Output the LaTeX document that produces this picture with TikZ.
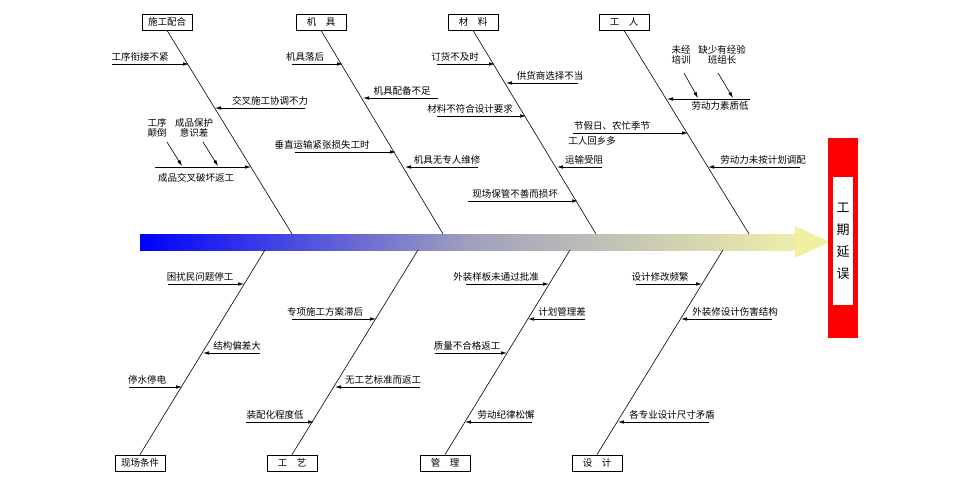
\documentclass[tikz,border=0pt]{standalone}
\usepackage{fontspec}
\setmainfont{Noto Sans CJK SC}
\usetikzlibrary{arrows.meta}
\definecolor{sy}{RGB}{238,238,170}
\definecolor{sm}{RGB}{160,160,190}
\definecolor{hy}{RGB}{240,240,160}
\tikzset{
  cat/.style={draw,thick,fill=white,minimum width=50pt,minimum height=16pt,inner sep=1pt,font=\fontsize{9.5}{10}\selectfont},
  bone/.style={line width=0.6pt},
  br/.style={line width=0.6pt,-{Latex[length=6pt,width=3.5pt]}},
  lbl/.style={font=\fontsize{9.5}{10.5}\selectfont,inner sep=0pt,align=center}
}
\begin{document}
\begin{tikzpicture}[x=1pt,y=-1pt]
\useasboundingbox (0,0) rectangle (962,500);
% spine
\shade[left color=blue,right color=sy,middle color=sm] (140,234) rectangle (797,250);
\fill[hy] (795,226) -- (830,242) -- (795,258) -- cycle;
% effect box
\fill[red] (828,138) rectangle (858,338);
\node[fill=white,minimum width=20pt,minimum height=127pt,inner sep=0pt,align=center,font=\fontsize{13}{22}\selectfont] (eff) at (843,241) {工\\期\\延\\误};
% top categories
\node[cat] (c1) at (167,22) {施工配合};
\node[cat] (c2) at (321,22) {机\quad 具};
\node[cat] (c3) at (473,22) {材\quad 料};
\node[cat] (c4) at (624,22) {工\quad 人};
\coordinate (s1) at (292,234); \coordinate (s2) at (443,234);
\coordinate (s3) at (596,234); \coordinate (s4) at (749,234);
\draw[bone] (c1.south) -- (s1); \draw[bone] (c2.south) -- (s2);
\draw[bone] (c3.south) -- (s3); \draw[bone] (c4.south) -- (s4);
% bottom categories
\node[cat] (d1) at (140,463) {现场条件};
\node[cat] (d2) at (292,463) {工\quad 艺};
\node[cat] (d3) at (445,463) {管\quad 理};
\node[cat] (d4) at (597,463) {设\quad 计};
\coordinate (t1) at (265,250); \coordinate (t2) at (418,250);
\coordinate (t3) at (570,250); \coordinate (t4) at (723,250);
\draw[bone] (d1.north) -- (t1); \draw[bone] (d2.north) -- (t2);
\draw[bone] (d3.north) -- (t3); \draw[bone] (d4.north) -- (t4);
% 施工配合
\draw[br] (112,64) -- (189,64); \node[lbl] (a1) at (140,57) {工序衔接不紧};
\draw[br] (305,108) -- (215,108); \node[lbl] (a2) at (270,101) {交叉施工协调不力};
\draw[br] (155,167) -- (251,167); \node[lbl] (a3) at (196,178) {成品交叉破坏返工};
\node[lbl] (a4) at (157,128) {工序\\颠倒};
\node[lbl] (a5) at (194,128) {成品保护\\意识差};
\draw[br] (167,142) -- (182,166); \draw[br] (203,142) -- (218,166);
% 机具
\draw[br] (292,64) -- (343,64); \node[lbl] (b1) at (305,57) {机具落后};
\draw[br] (438,98) -- (363,98); \node[lbl] (b2) at (402,91) {机具配备不足};
\draw[br] (295,152) -- (396,152); \node[lbl] (b3) at (322,145) {垂直运输紧张损失工时};
\draw[br] (478,167) -- (405,167); \node[lbl] (b4) at (447,160) {机具无专人维修};
% 材料
\draw[br] (437,64) -- (495,64); \node[lbl] (m1) at (455,57) {订货不及时};
\draw[br] (578,83) -- (506,83); \node[lbl] (m2) at (550,76) {供货商选择不当};
\draw[br] (437,116) -- (526,116); \node[lbl] (m3) at (470,109) {材料不符合设计要求};
\draw[br] (602,167) -- (557,167); \node[lbl] (m4) at (584,160) {运输受阻};
\draw[br] (468,201) -- (578,201); \node[lbl] (m5) at (515,194) {现场保管不善而损坏};
% 工人
\draw[br] (750,99) -- (667,99); \node[lbl] (w1) at (720,106) {劳动力素质低};
\node[lbl] (w2) at (681,55) {未经\\培训};
\node[lbl] (w3) at (722,55) {缺少有经验\\班组长};
\draw[br] (684,73) -- (698,98); \draw[br] (718,73) -- (733,98);
\draw[br] (573,133) -- (688,133);
\node[lbl] (w4) at (612,126) {节假日、农忙季节};
\node[lbl] (w5) at (592,141) {工人回乡多};
\draw[br] (800,167) -- (708,167); \node[lbl] (w6) at (763,160) {劳动力未按计划调配};
% 现场条件
\draw[br] (168,284) -- (244,284); \node[lbl] (x1) at (200,277) {困扰民问题停工};
\draw[br] (260,353) -- (203,353); \node[lbl] (x2) at (237,346) {结构偏差大};
\draw[br] (129,387) -- (182,387); \node[lbl] (x3) at (147,380) {停水停电};
% 工艺
\draw[br] (292,319) -- (376,319); \node[lbl] (y1) at (325,312) {专项施工方案滞后};
\draw[br] (420,387) -- (335,387); \node[lbl] (y2) at (383,380) {无工艺标准而返工};
\draw[br] (246,422) -- (314,422); \node[lbl] (y3) at (275,415) {装配化程度低};
% 管理
\draw[br] (466,284) -- (549,284); \node[lbl] (z1) at (496,277) {外装样板未通过批准};
\draw[br] (585,319) -- (528,319); \node[lbl] (z2) at (562,312) {计划管理差};
\draw[br] (435,353) -- (507,353); \node[lbl] (z3) at (467,346) {质量不合格返工};
\draw[br] (532,422) -- (465,422); \node[lbl] (z4) at (506,415) {劳动纪律松懈};
% 设计
\draw[br] (636,284) -- (702,284); \node[lbl] (v1) at (660,277) {设计修改频繁};
\draw[br] (772,319) -- (681,319); \node[lbl] (v2) at (735,312) {外装修设计伤害结构};
\draw[br] (709,422) -- (618,422); \node[lbl] (v3) at (672,415) {各专业设计尺寸矛盾};
\end{tikzpicture}
\end{document}
